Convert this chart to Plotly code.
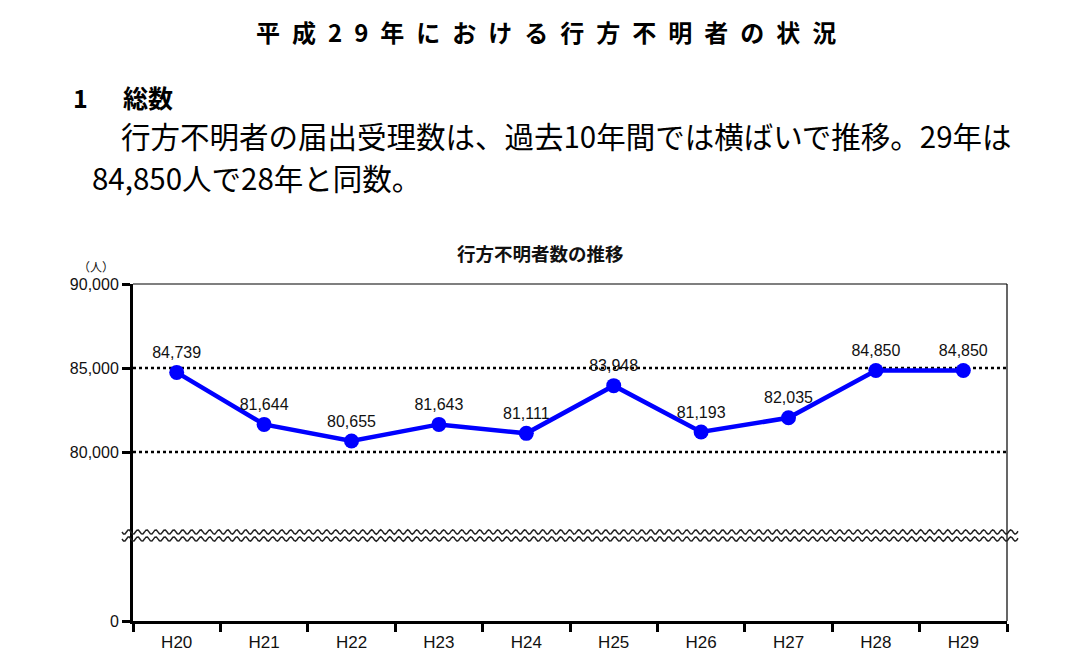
import numpy as np
import plotly.graph_objects as go
from plotly.subplots import make_subplots

# data
years = ["H20", "H21", "H22", "H23", "H24", "H25", "H26", "H27", "H28", "H29"]
counts = [84739, 81644, 80655, 81643, 81111, 83948, 81193, 82035, 84850, 84850]
upper_ticks = [80000, 85000, 90000]
dotted_lines = [80000, 85000]
lower_ticks = [0]

page_title = "平成29年における行方不明者の状況"
section_no = "1"
section_title = "総数"
body_line1 = "行方不明者の届出受理数は、過去10年間では横ばいで推移。29年は"
body_line2 = "84,850人で28年と同数。"
chart_title = "行方不明者数の推移"
unit_label = "（人）"

# screen pixels of the plot area (page body adds an 8px margin)
W, H, OFF = 1085, 664, 8
PL, PR, PT, PB = 133, 1007, 284, 621
BREAK_Y = 536
JP = "Noto Sans CJK JP"
LAT = "Liberation Sans, Arial, sans-serif"


def px(x):
    return (x - PL) / (PR - PL)


def py(y):
    return (PB - y) / (PB - PT)


top_h = BREAK_Y - PT
bot_h = PB - BREAK_Y
fig = make_subplots(rows=2, cols=1, shared_xaxes=True, vertical_spacing=0,
                    row_heights=[top_h / (top_h + bot_h), bot_h / (top_h + bot_h)])

fig.add_trace(go.Scatter(
    x=years, y=counts, mode="lines+markers+text",
    line=dict(color="#0000ff", width=4.5),
    marker=dict(color="#0000ff", size=15),
    text=[f"{v:,}" for v in counts], textposition="top center",
    textfont=dict(family=LAT, size=16, color="#111"),
    cliponaxis=False, hoverinfo="x+y", showlegend=False,
), row=1, col=1)
# empty trace so the lower panel carries the category axis
fig.add_trace(go.Scatter(x=years, y=[None] * len(years), mode="lines",
                         showlegend=False, hoverinfo="skip"), row=2, col=1)

for v in dotted_lines:
    fig.add_shape(type="line", xref="x domain", yref="y", x0=0, x1=1, y0=v, y1=v,
                  line=dict(color="black", width=2.5, dash="dot"), layer="below")
# frame: thin top and right edges
fig.add_shape(type="line", xref="paper", yref="paper", x0=0, x1=1, y0=1, y1=1,
              line=dict(color="black", width=1.2))
fig.add_shape(type="line", xref="paper", yref="paper", x0=1, x1=1, y0=0, y1=1,
              line=dict(color="black", width=1.2))

# axis break: two wavy lines across the plot
xs = np.linspace(122, 1018, 600)
for yc in (532, 539):
    ys = yc + 2.2 * np.sin((xs - 122) / 9.0 * 2 * np.pi)
    path = "M " + " L ".join(f"{px(a):.5f},{py(b):.5f}" for a, b in zip(xs, ys))
    fig.add_shape(type="path", xref="paper", yref="paper", path=path,
                  line=dict(color="#222", width=1.5))

tick_font_y = dict(family=LAT, size=16, color="#111")
axis_common = dict(showline=True, linecolor="black", linewidth=3, showgrid=False,
                   zeroline=False, ticks="outside", tickcolor="black", tickwidth=3,
                   ticklen=8, automargin=False)
fig.update_layout(
    yaxis=dict(range=[75000, 90000], tickvals=upper_ticks, tickformat=",",
               tickfont=tick_font_y, **axis_common),
    yaxis2=dict(range=[0, bot_h / top_h * 15000], tickvals=lower_ticks,
                tickfont=tick_font_y, **axis_common),
)
fig.update_xaxes(type="category", range=[-0.5, len(years) - 0.5], showline=False,
                 showgrid=False, zeroline=False, ticks="", automargin=False,
                 row=1, col=1)
fig.update_xaxes(type="category", range=[-0.5, len(years) - 0.5], tickson="boundaries",
                 tickfont=dict(family=LAT, size=17, color="#111"), ticklabelstandoff=4,
                 **axis_common, row=2, col=1)

annotations = [
    dict(text="<b>" + "\u2002".join(page_title) + "</b>", x=px(546), y=py(32),
         xanchor="center", font=dict(family=JP, size=24, color="black")),
    dict(text="<b>" + section_no + "</b>", x=px(71), y=py(97), xanchor="left",
         font=dict(family=JP, size=25, color="black")),
    dict(text="<b>" + section_title + "</b>", x=px(121), y=py(97), xanchor="left",
         font=dict(family=JP, size=25, color="black")),
    dict(text=body_line1, x=px(119), y=py(135), xanchor="left",
         font=dict(family=JP, size=29.5, color="black")),
    dict(text=body_line2, x=px(90), y=py(177), xanchor="left",
         font=dict(family=JP, size=29.5, color="black")),
    dict(text="<b>" + chart_title + "</b>", x=px(540), y=py(253), xanchor="center",
         font=dict(family=JP, size=18.5, color="#111")),
    dict(text=unit_label, x=px(96), y=py(266), xanchor="center",
         font=dict(family=JP, size=12, color="#111")),
]
for a in annotations:
    a.update(xref="paper", yref="paper", yanchor="middle", showarrow=False)

fig.update_layout(
    width=W - 2 * OFF, height=H - 2 * OFF,
    margin=dict(l=PL - OFF, r=W - OFF - PR, t=PT - OFF, b=H - OFF - PB),
    paper_bgcolor="white", plot_bgcolor="white",
    annotations=annotations, showlegend=False,
)

fig.write_html("out.html")
